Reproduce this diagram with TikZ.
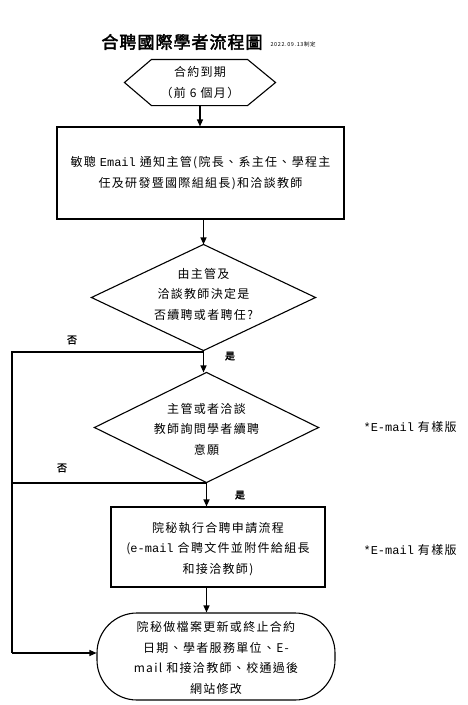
\documentclass[tikz,border=0pt]{standalone}
\usepackage{fontspec}
\setmainfont{Noto Sans CJK TC}[LetterSpace=11]
\newfontfamily\monofont{Liberation Mono}
\newfontfamily\titlefont{Noto Sans CJK TC}[LetterSpace=6,FakeBold=2.5]
\newfontfamily\lblfont{Noto Sans CJK TC}[FakeBold=2]
\usetikzlibrary{arrows.meta,calc}
\begin{document}
\begin{tikzpicture}[x=1pt,y=-1pt,line width=1.1pt,
  txt/.style={font=\fontsize{12}{20.5}\selectfont,align=center,inner sep=0pt},
  arr/.style={-{Triangle[length=7pt,width=6pt]}},
  lbl/.style={font=\lblfont\fontsize{10}{12}\selectfont,inner sep=0pt},
  note/.style={font=\fontsize{12}{14}\selectfont,anchor=west,inner sep=0pt}]
\fill[white] (0,0) rectangle (468,705);
\useasboundingbox (0,0) rectangle (468,705);

\node[font=\titlefont\fontsize{17}{20}\selectfont,inner sep=0pt] (title) at (182,42) {合聘國際學者流程圖};
\node[font=\fontsize{5.5}{6}\selectfont,anchor=west,inner sep=0pt] (date) at (270,44) {2022.09.13制定};

% hexagon
\node[txt,minimum width=150pt,minimum height=45pt] (hex) at (200,82.5) {合約到期\\（前 6 個月）};
\draw (hex.west) -- ($(hex.north west)+(27,0)$) -- ($(hex.north east)+(-28,0)$) -- (hex.east)
  -- ($(hex.south east)+(-28,0)$) -- ($(hex.south west)+(27,0)$) -- cycle;

% box 1
\node[draw,txt,minimum width=287pt,minimum height=92pt] (box1) at (200.5,173)
  {敏聰 {\monofont Email} 通知主管(院長、系主任、學程主\\任及研發暨國際組組長)和洽談教師};

% diamond 1
\node[txt,minimum width=223pt,minimum height=105pt] (d1) at (203.5,297.5) {};
\draw (d1.north) -- (d1.east) -- (d1.south) -- (d1.west) -- cycle;
\node[txt] (d1t) at (203.5,294) {由主管及\\洽談教師決定是\\否續聘或者聘任?};

% diamond 2
\node[txt,minimum width=223pt,minimum height=109pt] (d2) at (206.5,427.5) {};
\draw (d2.north) -- (d2.east) -- (d2.south) -- (d2.west) -- cycle;
\node[txt] (d2t) at (206.5,429) {主管或者洽談\\教師詢問學者續聘\\意願};

% box 2
\node[draw,txt,minimum width=214pt,minimum height=80pt] (box2) at (218,547) {};
\node[txt] (box2t) at (218,549) {院秘執行合聘申請流程\\({\monofont e-mail} 合聘文件並附件給組長\\和接洽教師)};

% rounded end box
\node[draw,txt,rounded corners=40pt,minimum width=238pt,minimum height=87pt] (rr) at (216,656.5) {};
\node[txt] (rrt) at (216,658) {院秘做檔案更新或終止合約\\日期、學者服務單位、E-\\mail 和接洽教師、校通過後\\網站修改};

% side notes
\node[note] (n1) at (363,427) {{\monofont *E-mail} 有樣版};
\node[note] (n2) at (363,550) {{\monofont *E-mail} 有樣版};

% labels
\node[lbl] (no1) at (72,340) {否};
\node[lbl] (yes1) at (230,356) {是};
\node[lbl] (no2) at (62,468) {否};
\node[lbl] (yes2) at (240,495) {是};

% connectors
\coordinate (L1) at (12,352);
\coordinate (L2) at (12,483);
\coordinate (L3) at (12,653);
\draw[arr] (hex.south) -- (hex.south |- box1.north);
\draw[arr] (box1.south -| d1.north) -- (d1.north);
\draw[arr] (d1.south) -- (d1.south |- d2.north);
\draw (d1.south |- L1) -- (L1) -- (L3);
\draw[arr] (L3) -- (rr.west |- L3);
\draw (L2) -- (L2 -| d2.south);
\draw[arr] (d2.south) -- (d2.south |- box2.north);
\draw[arr] (d2.south |- box2.south) -- (d2.south |- rr.north);
\end{tikzpicture}
\end{document}
